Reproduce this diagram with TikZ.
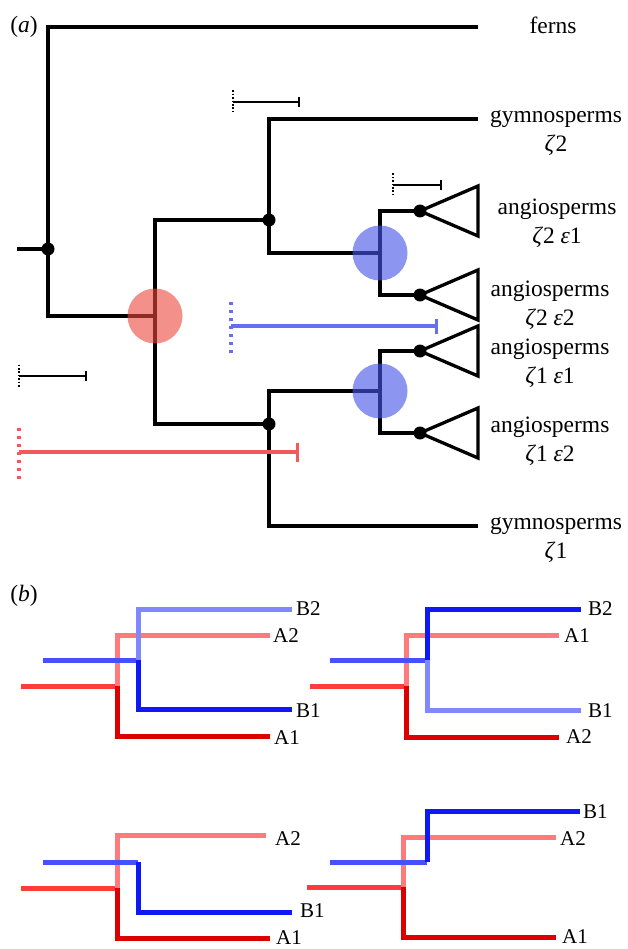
\documentclass[tikz,border=0pt]{standalone}
\usepackage{fontspec}
\setmainfont{Liberation Serif}
\usetikzlibrary{arrows.meta}
\definecolor{cDR}{RGB}{220,0,0}
\definecolor{cLR}{RGB}{255,122,122}
\definecolor{cMR}{RGB}{255,60,60}
\definecolor{cDB}{RGB}{15,25,245}
\definecolor{cLB}{RGB}{128,136,255}
\definecolor{cMB}{RGB}{70,80,255}
\definecolor{cBarB}{RGB}{100,112,240}
\definecolor{cBarR}{RGB}{240,90,90}
\definecolor{cCircB}{RGB}{70,85,230}
\definecolor{cCircR}{RGB}{235,70,60}
\tikzset{
  tree/.style={line width=3.3pt},
  tdot/.style={circle, fill=black, inner sep=0pt, minimum size=13pt},
  circB/.style={circle, fill=cCircB, fill opacity=0.62, inner sep=0pt, minimum size=55pt},
  circR/.style={circle, fill=cCircR, fill opacity=0.6, inner sep=0pt, minimum size=55pt},
  lab/.style={font=\fontsize{23.5}{29}\selectfont, align=center, inner sep=0pt},
  plab/.style={font=\fontsize{23.5}{29}\selectfont, inner sep=0pt},
  blab/.style={font=\fontsize{21}{25}\selectfont, anchor=west, inner sep=0pt},
  bl/.style={line width=5pt},
  sbar/.style={line width=2pt, -{Bar[width=10pt,line width=2pt]}},
  sdots/.style={line width=2pt, dash pattern=on 1.6pt off 1.8pt},
  cbar/.style={line width=3.2pt, -{Bar[width=#1,line width=3.2pt]}},
  cdots/.style={line width=3.2pt, dash pattern=on 3pt off 5pt},
}
\begin{document}
\begin{tikzpicture}[x=1pt,y=-1pt]
\useasboundingbox (0,0) rectangle (627,949);

% ---------- panel (a) ----------
\node[plab] (pa) at (24,27) {(\textit{a})};

\coordinate (R0) at (17,249);
\coordinate (R) at (48,249);
\coordinate (F) at (478,27);
\coordinate (N1) at (155,316);
\coordinate (G) at (269,220);
\coordinate (H) at (269,424);
\coordinate (GZ2) at (478,119);
\coordinate (GZ1) at (478,526);
\coordinate (A2) at (380,253);
\coordinate (A1) at (380,391);
\coordinate (t21) at (420,211);
\coordinate (t22) at (420,295);
\coordinate (t11) at (420,351);
\coordinate (t12) at (420,433);

\draw[tree] (R0) -- (R);
\draw[tree] (F) -| (R) |- (N1);
\draw[tree] (G) -| (N1) |- (H);
\draw[tree] (GZ2) -| (G) |- (A2);
\draw[tree] (A1) -| (H) |- (GZ1);
\draw[tree] (t21) -| (A2) |- (t22);
\draw[tree] (t11) -| (A1) |- (t12);
\foreach \t in {t21,t22,t11,t12}
  \draw[tree] (\t) -- ++(58,-25) -- ++(0,50) -- cycle;
\foreach \d in {R,G,H,t21,t22,t11,t12}
  \node[tdot] (d\d) at (\d) {};

\node[circR] (cN1) at (N1) {};
\node[circB] (cA2) at (A2) {};
\node[circB] (cA1) at (A1) {};

% scale bars
\coordinate (s1a) at (233,102); \coordinate (s1b) at (300,102);
\coordinate (s2a) at (393,185); \coordinate (s2b) at (442,185);
\coordinate (s3a) at (19,376);  \coordinate (s3b) at (87,376);
\coordinate (s4a) at (231,326); \coordinate (s4b) at (438,326);
\coordinate (s5a) at (19,452);  \coordinate (s5b) at (299,452);
\foreach \s in {s1,s2,s3}{
  \draw[sbar] (\s a) -- (\s b);
  \draw[sdots] ([yshift=11.5pt]\s a) -- ([yshift=-11.5pt]\s a);
}
\draw[cbar=15pt, cBarB] (s4a) -- (s4b);
\draw[cdots, cBarB] ([yshift=24pt]s4a) -- ([yshift=-27pt]s4a);
\draw[cbar=19pt, cBarR] (s5a) -- (s5b);
\draw[cdots, cBarR] ([yshift=24pt]s5a) -- ([yshift=-27pt]s5a);

% labels
\node[lab] (lF) at (553,25) {ferns};
\node[lab] (lGZ2) at (556,133) {gymnosperms\\\textit{ζ}2};
\node[lab] (lA21) at (557,223) {angiosperms\\\textit{ζ}2 \textit{ε}1};
\node[lab] (lA22) at (550,305) {angiosperms\\\textit{ζ}2 \textit{ε}2};
\node[lab] (lA11) at (550,363) {angiosperms\\\textit{ζ}1 \textit{ε}1};
\node[lab] (lA12) at (550,441) {angiosperms\\\textit{ζ}1 \textit{ε}2};
\node[lab] (lGZ1) at (556,540) {gymnosperms\\\textit{ζ}1};

% ---------- panel (b) ----------
\node[plab] (pb) at (24,596) {(\textit{b})};

% b1
\coordinate (b1r0) at (21,686);  \coordinate (b1r) at (117,686);
\coordinate (b1A2) at (270,635); \coordinate (b1A1) at (270,736);
\coordinate (b1b0) at (43,660);  \coordinate (b1b) at (138,660);
\coordinate (b1B2) at (292,609); \coordinate (b1B1) at (292,709);
\draw[bl,cMR] (b1r0) -- (b1r);
\draw[bl,cLR] (b1A2) -| (b1r);
\draw[bl,cDR] (b1r) |- (b1A1);
\draw[bl,cMB] (b1b0) -- (b1b);
\draw[bl,cLB] (b1B2) -| (b1b);
\draw[bl,cDB] (b1b) |- (b1B1);
\node[blab] (l1A2) at (273,636) {A2};
\node[blab] (l1A1) at (274,738) {A1};
\node[blab] (l1B2) at (296,609) {B2};
\node[blab] (l1B1) at (296,711) {B1};

% b2
\coordinate (b2r0) at (310,686); \coordinate (b2r) at (406,686);
\coordinate (b2A1) at (559,635); \coordinate (b2A2) at (559,737);
\coordinate (b2b0) at (330,660); \coordinate (b2b) at (427,660);
\coordinate (b2B2) at (581,609); \coordinate (b2B1) at (581,710);
\draw[bl,cMR] (b2r0) -- (b2r);
\draw[bl,cLR] (b2A1) -| (b2r);
\draw[bl,cDR] (b2r) |- (b2A2);
\draw[bl,cMB] (b2b0) -- (b2b);
\draw[bl,cDB] (b2B2) -| (b2b);
\draw[bl,cLB] (b2b) |- (b2B1);
\node[blab] (l2A1) at (564,636) {A1};
\node[blab] (l2A2) at (566,737) {A2};
\node[blab] (l2B2) at (588,609) {B2};
\node[blab] (l2B1) at (588,711) {B1};

% b3
\coordinate (b3r0) at (21,888);  \coordinate (b3r) at (117,888);
\coordinate (b3A2) at (266,835); \coordinate (b3A1) at (270,938);
\coordinate (b3b0) at (43,862);  \coordinate (b3b) at (138,862);
\coordinate (b3B1) at (292,912);
\draw[bl,cMR] (b3r0) -- (b3r);
\draw[bl,cLR] (b3A2) -| (b3r);
\draw[bl,cDR] (b3r) |- (b3A1);
\draw[bl,cMB] (b3b0) -- (b3b);
\draw[bl,cDB] (b3b) |- (b3B1);
\node[blab] (l3A2) at (275,839) {A2};
\node[blab] (l3A1) at (276,938) {A1};
\node[blab] (l3B1) at (300,911) {B1};

% b4
\coordinate (b4r0) at (307,887); \coordinate (b4r) at (403,887);
\coordinate (b4A2) at (556,837); \coordinate (b4A1) at (556,937);
\coordinate (b4b0) at (330,862); \coordinate (b4b) at (427,862);
\coordinate (b4B1) at (580,811);
\draw[bl,cMR] (b4r0) -- (b4r);
\draw[bl,cLR] (b4A2) -| (b4r);
\draw[bl,cDR] (b4r) |- (b4A1);
\draw[bl,cMB] (b4b0) -- (b4b);
\draw[bl,cDB] (b4b) |- (b4B1);
\node[blab] (l4A2) at (560,839) {A2};
\node[blab] (l4A1) at (562,937) {A1};
\node[blab] (l4B1) at (583,812) {B1};
\end{tikzpicture}
\end{document}
